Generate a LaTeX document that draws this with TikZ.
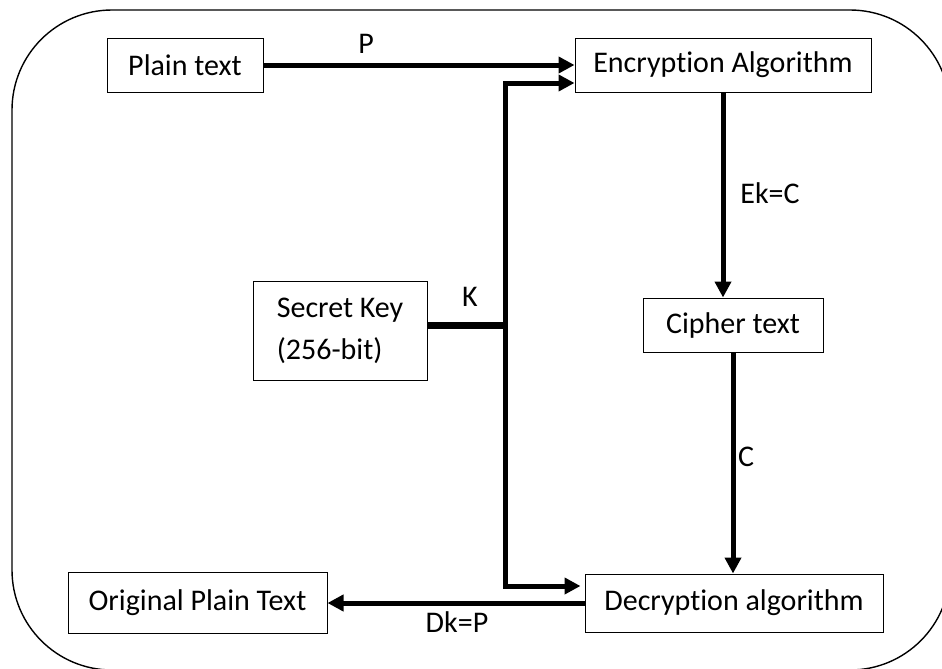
\documentclass[tikz,border=0pt]{standalone}
\usepackage{fontspec}
\setmainfont{Carlito}[RawFeature={-liga;-clig;-dlig}]
\usetikzlibrary{arrows.meta}
\usetikzlibrary{positioning}

\tikzset{
  box/.style={draw,line width=0.5pt,inner sep=2pt,font=\fontsize{15}{21}\selectfont},
  flow/.style={line width=2.5pt,-{Triangle[length=8pt,width=8pt]}},
  keyline/.style={line width=3.5pt},
  lbl/.style={font=\fontsize{15}{17}\selectfont,inner sep=0pt}
}

\begin{document}
\begin{tikzpicture}[x=0.5pt,y=-0.5pt]
\useasboundingbox (0,0) rectangle (942,669);
\clip (0,0) rectangle (942,669);
\fill[white] (0,0) rectangle (942,669);
\draw[line width=0.7pt,rounded corners=50pt] (12,10) rectangle (950,670);

% boxes
\node[box,minimum width=78pt,minimum height=27pt] (plain) at (185,65) {Plain text};
\node[box,minimum width=148pt,minimum height=27pt] (enc) at (723,65) {Encryption Algorithm};
\node[box,minimum width=87pt,minimum height=49.5pt,align=left] (key) at (340,330.5) {Secret Key\\(256-bit)};
\node[box,minimum width=90pt,minimum height=27pt] (cipher) at (733,325) {Cipher text};
\node[box,minimum width=149pt,minimum height=29pt] (dec) at (734,603) {Decryption algorithm};
\node[box,minimum width=129.5pt,minimum height=30.5pt] (orig) at (197.5,603) {Original Plain Text};

\coordinate (junction) at (505,325);
\coordinate (ktop) at (505,83);
\coordinate (kbot) at (505,586);

% connectors
\draw[flow] (plain.east) -- (enc.west);
\draw[keyline] (key.east |- junction) -- (junction);
\draw[flow] (junction) -- (ktop) -- (ktop -| enc.west);
\draw[flow,shorten >=2pt] (junction) -- (kbot) -- (kbot -| dec.west);
\draw[flow] (enc.south) -- (enc.south |- cipher.north);
\draw[flow] (cipher.south) -- (cipher.south |- dec.north);
\draw[flow] (dec.west) -- (orig.east);

% labels
\node[lbl] (lP) at (366,44) {P};
\node[lbl] (lK) at (470,297) {K};
\node[lbl] (lE) at (770,193) {Ek=C};
\node[lbl] (lC) at (746,457) {C};
\node[lbl] (lD) at (457,622) {Dk=P};
\end{tikzpicture}
\end{document}
